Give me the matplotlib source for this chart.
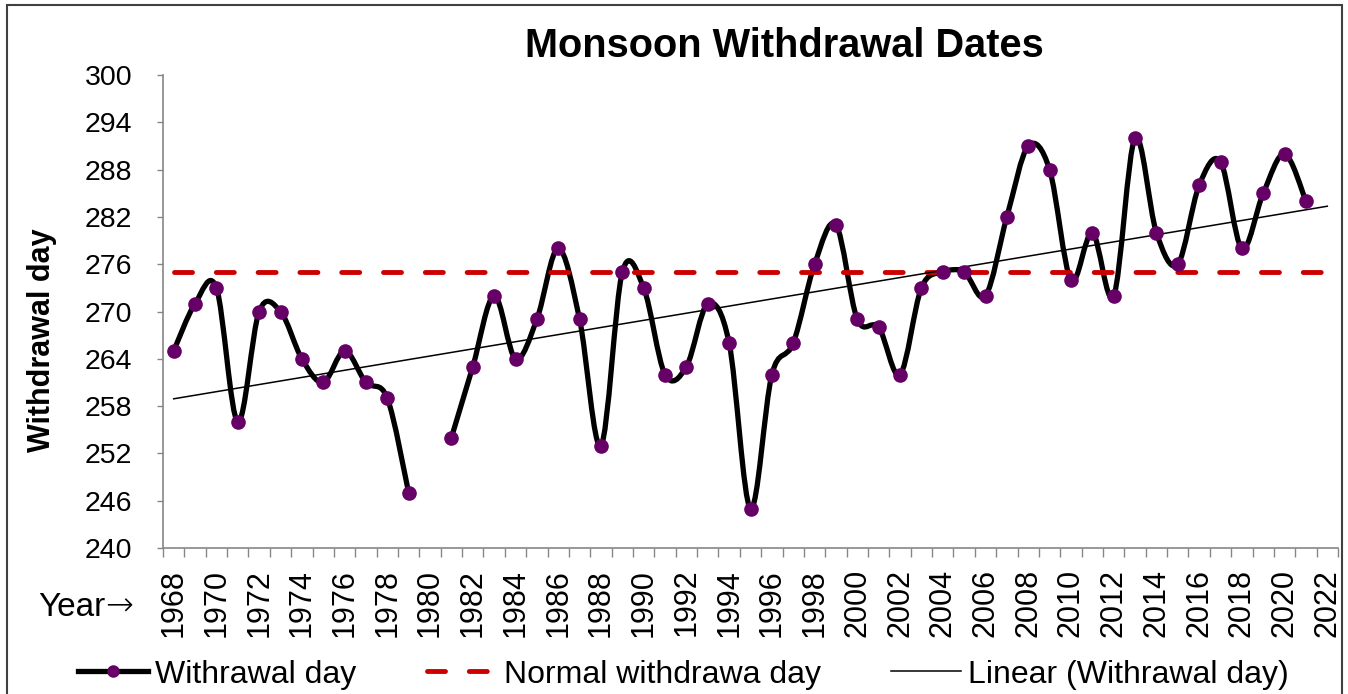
import numpy as np
import matplotlib
matplotlib.use('Agg')
from matplotlib import pyplot as plt
from matplotlib.lines import Line2D
from matplotlib.path import Path
from matplotlib.patches import PathPatch, Rectangle

plt.rcParams['font.family'] = ['Liberation Sans', 'DejaVu Sans']

# data (1980 missing)
years = np.arange(1968, 2022)
withdrawal_day = np.array([265, 271, 273, 256, 270, 270, 264, 261, 265, 261, 259, 247, np.nan,
                           254, 263, 272, 264, 269, 278, 269, 253, 275, 273, 262, 263, 271,
                           266, 245, 262, 266, 276, 281, 269, 268, 262, 273, 275, 275, 272,
                           282, 291, 288, 274, 280, 272, 292, 280, 276, 286, 289, 278, 285,
                           290, 284])
axis_years = np.arange(1968, 2023)
normal_day = np.full(len(axis_years), 275.0)
y_ticks = np.arange(240, 301, 6)

line_color = 'black'
marker_color = '#660066'
normal_color = '#CC0000'
axis_color = '#868686'


def smooth_path(x, y):
    # excel-like smoothed line: catmull-rom as cubic bezier
    verts = [(x[0], y[0])]
    codes = [Path.MOVETO]
    n = len(x)
    for i in range(n - 1):
        i0 = max(i - 1, 0)
        i3 = min(i + 2, n - 1)
        c1 = (x[i] + (x[i + 1] - x[i0]) / 6, y[i] + (y[i + 1] - y[i0]) / 6)
        c2 = (x[i + 1] - (x[i3] - x[i]) / 6, y[i + 1] - (y[i3] - y[i]) / 6)
        verts += [c1, c2, (x[i + 1], y[i + 1])]
        codes += [Path.CURVE4] * 3
    return Path(verts, codes)


fig = plt.figure(figsize=(13.48, 6.94), dpi=100)
ax = fig.add_axes([163 / 1348, 1 - 548 / 694, (1338 - 163) / 1348, (548 - 75) / 694])

valid = ~np.isnan(withdrawal_day)
breaks = np.where(~valid)[0]
start = 0
for stop in list(breaks) + [len(years)]:
    seg_x = years[start:stop].astype(float)
    seg_y = withdrawal_day[start:stop]
    if len(seg_x) > 1:
        ax.add_patch(PathPatch(smooth_path(seg_x, seg_y), fill=False, edgecolor=line_color,
                               lw=3.8, capstyle='round', joinstyle='round', zorder=2))
    start = stop + 1

ax.plot(axis_years, normal_day, color=normal_color, lw=3.5, dashes=(3.7, 4.9),
        dash_capstyle='round', zorder=3)

coef = np.polyfit(years[valid], withdrawal_day[valid], 1)
trend_x = np.array([axis_years[0], axis_years[-1]])
ax.plot(trend_x, np.polyval(coef, trend_x), color='black', lw=1.1, zorder=3.5)

ax.plot(years, withdrawal_day, 'o', color=marker_color, ms=9.5, zorder=4)

ax.set_xlim(1967.5, 2022.5)
ax.set_ylim(240, 300)
ax.set_yticks(y_ticks)
ax.set_xticks(axis_years[::2])
ax.set_xticklabels([str(y) for y in axis_years[::2]], rotation=90, fontsize=22)
ax.set_xticks(np.arange(1967.5, 2023, 1), minor=True)
ax.tick_params(axis='x', which='major', length=0, pad=15)
ax.tick_params(axis='x', which='minor', length=6.5, color=axis_color, width=1)
ax.tick_params(axis='y', length=4.3, color=axis_color, width=1, labelsize=20.5, pad=18)

for side in ['top', 'right']:
    ax.spines[side].set_visible(False)
for side in ['left', 'bottom']:
    ax.spines[side].set_color(axis_color)
    ax.spines[side].set_linewidth(1.2)

fig.text(0.582, 1 - 46 / 694, 'Monsoon Withdrawal Dates', ha='center', va='center',
         fontsize=28.6, fontweight='bold')
fig.text(42 / 1348, 1 - 340 / 694, 'Withdrawal day', rotation=90, ha='center', va='center',
         fontsize=22, fontweight='bold')

year_txt = fig.text(38 / 1348, 1 - 616 / 694, 'Year', ha='left', va='baseline', fontsize=24)
renderer = fig.canvas.get_renderer()
bb = year_txt.get_window_extent(renderer=renderer)
fig.text(bb.x1 / 1348, 1 - 616 / 694, '\u2192', ha='left', va='baseline', fontsize=24,
         family=['DejaVu Sans'], fontweight='light')

handles = [
    Line2D([], [], color=line_color, lw=3.8, marker='o', markerfacecolor=marker_color,
           markeredgecolor=marker_color, ms=8),
    Line2D([], [], color=normal_color, lw=3.5, dashes=(3.7, 4.9), dash_capstyle='round'),
    Line2D([], [], color='black', lw=1.1),
]
labels = ['Withrawal day', 'Normal withdrawa day', 'Linear (Withrawal day)']
fig.legend(handles, labels, loc='center', bbox_to_anchor=(0.507, 0.028), ncol=3,
           frameon=False, fontsize=23, handlelength=2.2, handletextpad=0.22,
           columnspacing=2.2, numpoints=1)

fig.patches.append(Rectangle((7 / 1348, -0.02), (1342 - 7) / 1348, 1 - 5 / 694 + 0.02,
                             transform=fig.transFigure, fill=False, edgecolor='#404040', lw=1.5))

fig.savefig('out.png', dpi=100)
